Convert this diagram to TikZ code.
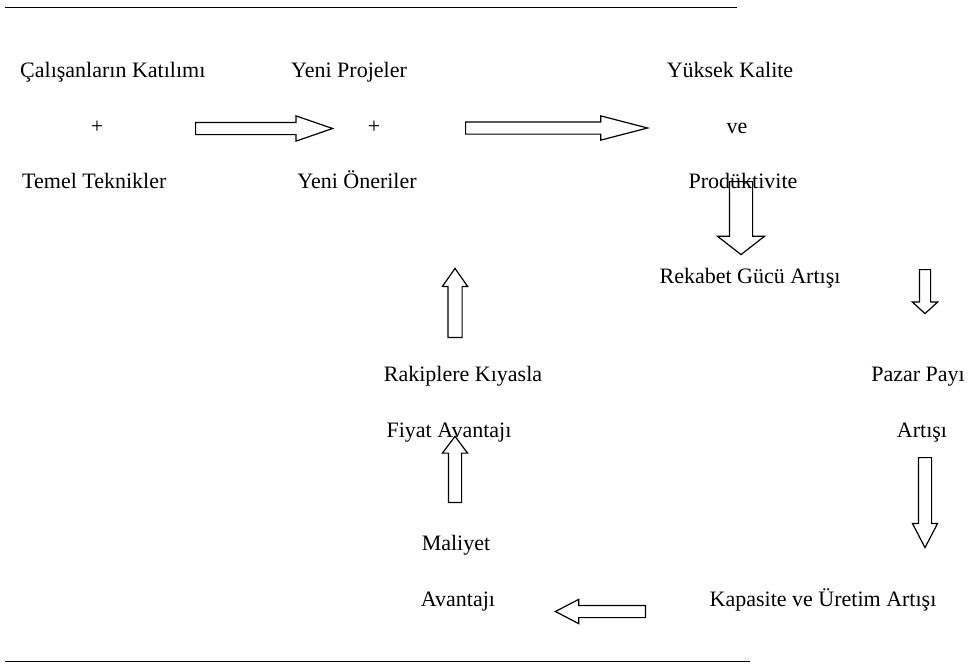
\documentclass[tikz,border=0pt]{standalone}
\usepackage{fontspec}
\setmainfont{Liberation Serif}
\usetikzlibrary{shapes.arrows}

\tikzset{
  txt/.style={inner sep=0pt, anchor=base, font=\fontsize{22}{26}\selectfont},
  blockarrow/.style={single arrow, draw=black, line width=1.2pt, anchor=tail,
    inner xsep=0pt, minimum width=0pt}
}

\begin{document}
\begin{tikzpicture}[x=1pt, y=-1pt]
    \useasboundingbox (0,0) rectangle (974,667);

    % rules above and below
    \draw[line width=0.9pt] (5,7) -- (737,7);
    \draw[line width=0.9pt] (5,661) -- (750,661);

    % first column
    \node[txt, anchor=base west] (katilim) at (20,77) {Çalışanların Katılımı};
    \node[txt] (arti1) at (97,133) {+};
    \node[txt, anchor=base west] (teknik) at (22,188) {Temel Teknikler};

    % second column
    \node[txt] (proje) at (349,77) {Yeni Projeler};
    \node[txt] (arti2) at (374,133) {+};
    \node[txt] (oneri) at (357,188) {Yeni Öneriler};

    % third column
    \node[txt] (kalite) at (730,77) {Yüksek Kalite};
    \node[txt] (ve) at (737,133) {ve};
    \node[txt] (verim) at (743,188) {Prodüktivite};
    \node[txt] (rekabet) at (750,283) {Rekabet Gücü Artışı};

    % right side
    \node[txt] (pazar) at (918,381) {Pazar Payı};
    \node[txt] (pazar2) at (922,437) {Artışı};
    \node[txt] (kapasite) at (823,606) {Kapasite ve Üretim Artışı};

    % middle of the loop
    \node[txt] (rakip) at (463,381) {Rakiplere Kıyasla};
    \node[txt] (fiyat) at (449,437) {Fiyat Avantajı};
    \node[txt] (maliyet) at (456,550) {Maliyet};
    \node[txt] (maliyet2) at (458,606) {Avantajı};

    % block arrows
    \node[blockarrow, inner ysep=5.5pt, single arrow head extend=6.5pt,
          single arrow tip angle=38, minimum height=137pt] (ok1) at (195,128.5) {};
    \node[blockarrow, inner ysep=5.5pt, single arrow head extend=6pt,
          single arrow tip angle=29, minimum height=182pt] (ok2) at (465,128) {};
    \node[blockarrow, rotate=-90, inner ysep=11pt, single arrow head extend=12pt,
          single arrow tip angle=104, minimum height=73pt] (ok3) at (741,181) {};
    \node[blockarrow, rotate=-90, inner ysep=5pt, single arrow head extend=7pt,
          single arrow tip angle=95, minimum height=44pt] (ok4) at (925,269) {};
    \node[blockarrow, rotate=-90, inner ysep=6pt, single arrow head extend=6pt,
          single arrow tip angle=55, minimum height=90pt] (ok5) at (925,457) {};
    \node[blockarrow, rotate=180, inner ysep=5.5pt, single arrow head extend=6pt,
          single arrow tip angle=55, minimum height=90pt] (ok6) at (646,611.5) {};
    \node[blockarrow, rotate=90, inner ysep=6pt, single arrow head extend=6pt,
          single arrow tip angle=74, minimum height=66pt] (ok7) at (455,503) {};
    \node[blockarrow, rotate=90, inner ysep=6.5pt, single arrow head extend=5.5pt,
          single arrow tip angle=70, minimum height=69pt] (ok8) at (455,338) {};
\end{tikzpicture}
\end{document}
